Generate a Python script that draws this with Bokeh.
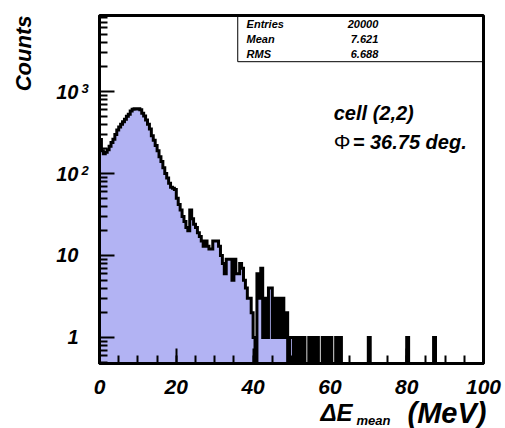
import numpy as np
from bokeh.plotting import figure
from bokeh.models import (Range1d, FixedTicker, Label, BoxAnnotation, ColumnDataSource,
                          LinearAxis, LogAxis)
from bokeh.embed import file_html
from bokeh.resources import INLINE

FONT = "Liberation Sans"
BI = "bold italic"

# ---- histogram content -------------------------------------------------
bin_width = 0.5            # MeV per bin
x_lo, x_hi = 0.0, 100.0

# entries per 0.5 MeV bin from 0 to 63 MeV (one row = 5 MeV)
counts_main = [
    260, 190, 175, 182, 195, 215, 240, 262, 300, 340,   # 0 - 5
    370, 400, 430, 460, 500, 530, 580, 610, 620, 615,   # 5 - 10
    620, 600, 545, 505, 450, 400, 350, 290, 255, 220,   # 10 - 15
    190, 160, 140, 118, 100, 88, 76, 68, 66, 64,        # 15 - 20
    50, 42, 36, 30, 26, 22, 20, 36, 28, 24,             # 20 - 25
    22, 19, 17, 15, 13, 15, 13, 12, 12, 15,             # 25 - 30
    15, 15, 13, 10, 8, 6, 9, 9, 9, 5,                   # 30 - 35
    9, 6, 6, 8, 7, 5, 4, 3, 3, 2,                       # 35 - 40
    1, 0, 6, 3, 7, 1, 3, 1, 4, 4,                       # 40 - 45
    1, 3, 1, 3, 1, 3, 1, 2, 0, 1,                       # 45 - 50
    1, 0, 1, 0, 1, 0, 1, 0, 0, 1,                       # 50 - 55
    0, 1, 0, 1, 0, 0, 1, 0, 1, 0,                       # 55 - 60
    1, 0, 0, 1, 0, 1,                                   # 60 - 63
]

# isolated single entries further out
tail_energy = [70.0, 80.0, 87.0]
tail_counts = [1, 1, 1]

# statistics box
stat_names = ["Entries", "Mean", "RMS"]
stat_values = ["20000", "7.621", "6.688"]

# axes
x_ticks = [0, 20, 40, 60, 80, 100]
x_minor_step = 5
y_ticks = [1, 10, 100, 1000]
y_tick_text = ["1", "10", "10", "10"]
y_tick_exp = ["", "", "2", "3"]
y_lo, y_hi = 0.48, 8500.0

# ---- canvas layout: the pad spans the whole canvas, the histogram frame sits inside
W, H = 505, 428
pad_left, pad_right, pad_top, pad_bottom = 99, 483, 15, 363   # frame edges in px

x_per_px = (x_hi - x_lo) / (pad_right - pad_left)
view_x = (x_lo - pad_left * x_per_px, x_hi + (W - pad_right) * x_per_px)
dec_per_px = (np.log10(y_hi) - np.log10(y_lo)) / (pad_bottom - pad_top)
view_y = (10 ** (np.log10(y_lo) - (H - pad_bottom) * dec_per_px),
          10 ** (np.log10(y_hi) + pad_top * dec_per_px))

# ---- build the binned arrays -------------------------------------------
n_bins = int(round((x_hi - x_lo) / bin_width))
counts = np.zeros(n_bins)
counts[:len(counts_main)] = counts_main
for e, c in zip(tail_energy, tail_counts):
    counts[int(round((e - x_lo) / bin_width))] = c
edges = x_lo + bin_width * np.arange(n_bins + 1)

filled = counts > 0
level = np.where(filled, counts, y_lo)        # empty bins drop to the frame bottom

area = ColumnDataSource(dict(x=edges, top=np.append(level, level[-1])))
step = ColumnDataSource(dict(x=np.repeat(edges, 2),
                             y=np.concatenate([[y_lo], np.repeat(level, 2), [y_lo]])))

# ---- figure --------------------------------------------------------------
p = figure(width=W, height=H, output_backend="svg", toolbar_location=None,
           x_range=Range1d(*view_x), y_range=Range1d(*view_y),
           y_axis_type="log", title=None, x_axis_location=None, y_axis_location=None,
           min_border=0)
p.background_fill_color = "white"
p.border_fill_color = "white"
p.grid.visible = False
p.outline_line_color = None

p.varea_step(x="x", y1=y_lo, y2="top", step_mode="after", source=area,
             fill_color="#b2b3f3")
p.line("x", "y", source=step, line_color="black", line_width=3,
       line_join="miter")

y_minor = [m * 10.0 ** k for k in range(-1, 4) for m in range(2, 10)]
y_minor = [v for v in y_minor if y_lo <= v <= y_hi]

xa = LinearAxis(fixed_location=y_lo, bounds=(x_lo, x_hi),
                ticker=FixedTicker(ticks=x_ticks,
                                   minor_ticks=list(range(int(x_lo), int(x_hi) + 1,
                                                          x_minor_step))))
ya = LogAxis(fixed_location=x_lo, bounds=(y_lo, y_hi),
             ticker=FixedTicker(ticks=y_ticks, minor_ticks=y_minor))
ya.major_label_overrides = dict(zip(y_ticks, y_tick_text))

for ax in (xa, ya):
    ax.axis_line_width = 3
    ax.major_tick_in = 15
    ax.major_tick_out = 0
    ax.minor_tick_in = 8
    ax.minor_tick_out = 0
    ax.major_tick_line_width = 2
    ax.minor_tick_line_width = 2
    ax.major_label_text_font = FONT
    ax.major_label_text_font_style = BI
    ax.major_label_text_color = "black"
xa.major_label_text_font_size = "21px"
xa.major_label_standoff = 16
ya.major_label_text_font_size = "20px"
ya.major_label_standoff = 21
p.add_layout(xa, "below")
p.add_layout(ya, "left")


def text(x, y, s, size, style=BI, **kw):
    p.add_layout(Label(x=x, y=y, text=s, text_font=FONT, text_font_style=style,
                       text_font_size=size, text_color="black", **kw))


# exponents of the decade labels
for v, e in zip(y_ticks, y_tick_exp):
    if e:
        text(x_lo, v, e, "13px", x_offset=-18, y_offset=3,
             text_baseline="alphabetic", text_align="left")

# axis titles
text(x_lo, y_lo, "\u0394E", "24px", x_offset=221, y_offset=-49,
     text_baseline="alphabetic", text_align="left")
text(x_lo, y_lo, "mean", "13px", x_offset=257, y_offset=-57,
     text_baseline="alphabetic", text_align="left")
text(x_hi, y_lo, "(MeV)", "29px", x_offset=3, y_offset=-49,
     text_baseline="alphabetic", text_align="right")
text(x_lo, y_hi, "Counts", "22px", x_offset=-76, y_offset=0, angle=np.pi / 2,
     text_baseline="alphabetic", text_align="right")

# statistics box
p.add_layout(BoxAnnotation(left=36.0, right=x_hi, bottom=2320, top=y_hi,
                           fill_color="white", fill_alpha=1.0,
                           line_color="black", line_width=1, line_alpha=1.0))
for name, val, yy in zip(stat_names, stat_values, [6750, 4430, 2905]):
    text(38.3, yy, name, "11px", text_baseline="middle")
    text(72.6, yy, val, "11px", text_baseline="middle", text_align="right")

# frame of the histogram pad
p.add_layout(BoxAnnotation(left=x_lo, right=x_hi, bottom=y_lo, top=y_hi,
                           fill_alpha=0, line_color="black", line_width=3,
                           line_alpha=1.0))

# cell annotation
text(61, 554, "cell (2,2)", "20px", text_baseline="alphabetic")
text(61, 246, "\u03a6", "21px", style="normal", text_baseline="alphabetic")
text(61, 246, "= 36.75 deg.", "20px", x_offset=19, text_baseline="alphabetic")

open("out.html", "w").write(file_html(p, INLINE))
